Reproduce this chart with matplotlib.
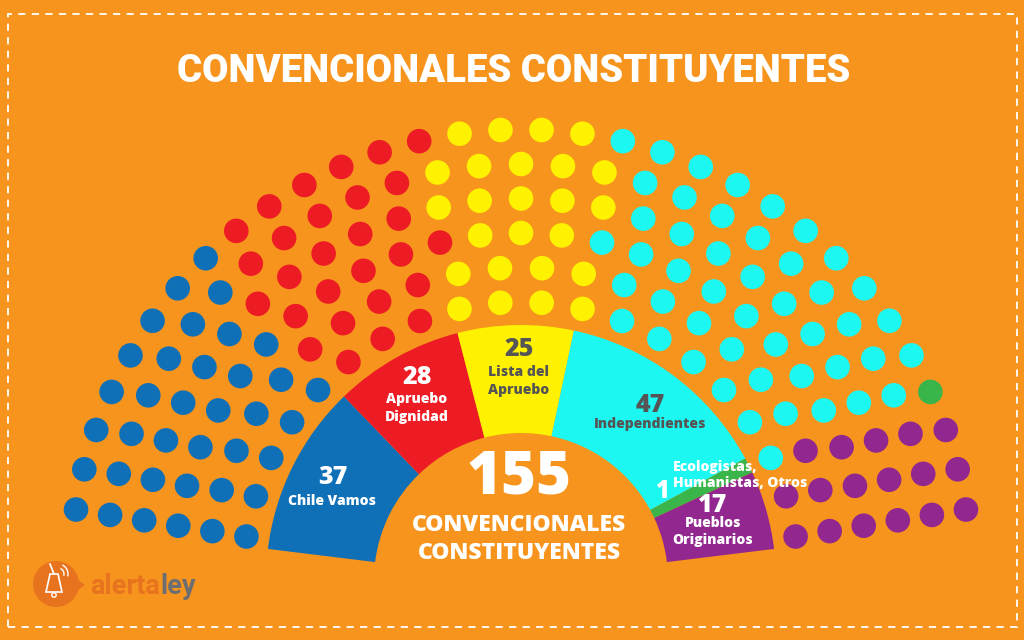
import numpy as np
import matplotlib
matplotlib.use("Agg")
import matplotlib.pyplot as plt
from matplotlib.patches import Circle, Wedge, Rectangle, Polygon
from matplotlib import font_manager

# ---------------- data ----------------
parties = ["Chile Vamos", "Apruebo Dignidad", "Lista del Apruebo", "Independientes",
           "Ecologistas, Humanistas, Otros", "Pueblos Originarios"]
seats = [37, 28, 25, 47, 1, 17]
colors = ["#0F70B7", "#ED1C24", "#FFF200", "#1CF7F2", "#39B54A", "#92278F"]
total_label = "155"
title = "CONVENCIONALES CONSTITUYENTES"

BG = "#F7941D"
W, H = 1024, 640

avail = {f.name for f in font_manager.fontManager.ttflist}
title_font = "Liberation Sans Narrow" if "Liberation Sans Narrow" in avail else "Roboto"
lab_font = ["Open Sans", "DejaVu Sans"]
LW = 800

fig = plt.figure(figsize=(10.24, 6.4), dpi=100)
fig.patch.set_facecolor(BG)
ax = fig.add_axes([0, 0, 1, 1])
ax.set_xlim(0, W)
ax.set_ylim(0, H)
ax.set_facecolor(BG)
ax.axis("off")

def Y(yp):  # pixel-from-top -> data y
    return H - yp

# dashed border
ax.add_patch(Rectangle((8, Y(627)), 1009, 613, fill=False, ec="white",
                       lw=1.3, ls=(0, (4, 3.5)), zorder=1))

# ---------------- parliament dots ----------------
cx, cy = 521, Y(580)
n_rows = 6
r_in, r_step = 278, 34.5
radii = [r_in + i * r_step for i in range(n_rows)]
total = sum(seats)
raw = np.array(radii) / sum(radii) * total
per_row = np.floor(raw).astype(int)
rem = total - per_row.sum()
order = np.argsort(-(raw - per_row))
for k in order[:rem]:
    per_row[k] += 1

a0, a1 = np.deg2rad(171), np.deg2rad(9)
pts = []
for r, n in zip(radii, per_row):
    angs = np.linspace(a0, a1, n)
    for a in angs:
        pts.append((a, r))
pts.sort(key=lambda p: (-p[0], p[1]))
cum = np.cumsum(seats)
for i, (a, r) in enumerate(pts):
    pi = int(np.searchsorted(cum, i, side="right"))
    ax.add_patch(Circle((cx + r * np.cos(a), cy + r * np.sin(a)), 12.3,
                        color=colors[pi], lw=0, zorder=3))

# ---------------- donut ----------------
R_out, R_w = 255, 108
s0, s1 = 173, 7
span = s0 - s1
min_ang = 3.5
ang = np.array(seats, float) / total * span
small = ang < min_ang
ang[small] = min_ang
ang[~small] *= (span - min_ang * small.sum()) / ang[~small].sum()
start = s0
for a, c in zip(ang, colors):
    end = start - a
    ax.add_patch(Wedge((cx, cy), R_out, end, start, width=R_w, color=c, lw=0, zorder=2))
    start = end

# ---------------- labels ----------------
def t(x, yp, s, size, color="white", ha="center", font=lab_font, weight=LW):
    ax.text(x, Y(yp), s, fontsize=size, color=color, ha=ha, va="center",
            family=font, fontweight=weight, zorder=5)

GREY = "#555555"
t(333, 478, str(seats[0]), 18)
t(332, 501, "Chile Vamos", 10)
t(417, 377, str(seats[1]), 18)
t(417, 399, "Apruebo", 10)
t(417, 417, "Dignidad", 10)
t(519, 350, str(seats[2]), 18, GREY)
t(519, 372, "Lista del", 10, GREY)
t(519, 390, "Apruebo", 10, GREY)
t(650, 405, str(seats[3]), 18, GREY)
t(650, 424, "Independientes", 10, GREY)
t(673, 467, "Ecologistas,", 10, ha="left")
t(673, 483, "Humanistas, Otros", 10, ha="left")
t(662, 491, str(seats[4]), 17)
t(713, 505, str(seats[5]), 18)
t(713, 523, "Pueblos", 10)
t(713, 540, "Originarios", 10)

t(519, 477, total_label, 43)
t(519, 525, "CONVENCIONALES", 16.5)
t(519, 553, "CONSTITUYENTES", 16.5)

ax.text(514, Y(71), title, fontsize=27.5, color="white", ha="center", va="center",
        family=[title_font, "DejaVu Sans"], fontweight="black", zorder=5)

# ---------------- logo ----------------
LOGO = "#E8731F"
ax.add_patch(Circle((56, Y(584)), 23, color=LOGO, lw=0, zorder=4))
ax.add_patch(Polygon([(74, Y(577)), (85, Y(585)), (74, Y(593))], closed=True,
                     color=LOGO, lw=0, zorder=4))
# simple bell
bell = Polygon([(50, Y(574)), (58, Y(574)), (62, Y(592)), (46, Y(592))], closed=True,
               fill=False, ec="white", lw=1.2, zorder=5)
ax.add_patch(bell)
ax.plot([54, 50], [Y(574), Y(564)], color="white", lw=1.2, zorder=5)
ax.add_patch(Circle((54, Y(595)), 2.2, fill=False, ec="white", lw=1.0, zorder=5))
for rr in (6, 10):
    arc = np.linspace(np.deg2rad(-10), np.deg2rad(60), 20)
    ax.plot(58 + rr * np.cos(arc), Y(574) + rr * np.sin(arc), color="white", lw=1.0, zorder=5)

tx = ax.text(90, Y(586), "alerta", fontsize=19.5, color=LOGO, ha="left", va="center",
             family=["Roboto", "DejaVu Sans"], fontweight="bold", zorder=5)
ax.annotate("ley", xy=(1, 0.5), xycoords=tx, ha="left", va="center", fontsize=19.5,
            color="#6D6E71", family=["Roboto", "DejaVu Sans"], fontweight="bold", zorder=5)

fig.savefig("out.png", dpi=100, facecolor=BG)
